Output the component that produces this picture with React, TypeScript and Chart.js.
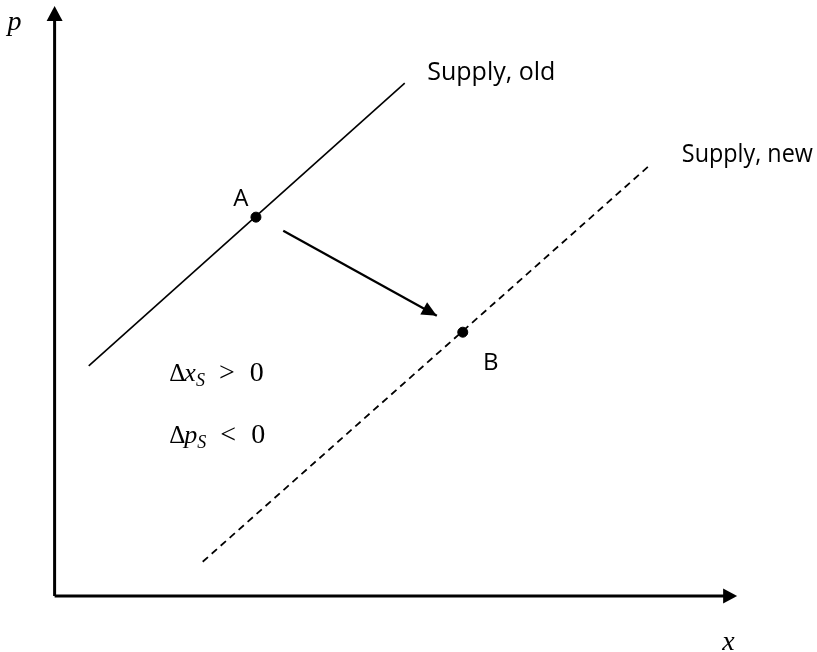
import React, { useEffect, useRef } from "react";
import { Chart, registerables } from "chart.js";

Chart.register(...registerables);

// Quantity (x) and price (p) units; axes run 0..100
const axisX = [0, 100];
const axisP = [0, 100];

const oldSupplyX = [5.0, 51.3];
const oldSupplyP = [39.0, 86.9];

const newSupplyX = [21.7, 87.1];
const newSupplyP = [5.8, 72.9];

const pointNames = ["A", "B"];
const pointX = [29.5, 59.8];
const pointP = [64.2, 44.7];

const shiftX = [33.5, 56.0];
const shiftP = [61.9, 47.5];

const seriesNames = ["Supply, old", "Supply, new"];

// annotation anchors (in data units)
const labelAnchors = {
  supplyOld: { x: 54.6, y: 87.4 },
  supplyNew: { x: 91.9, y: 73.6 },
  A: { x: 27.3, y: 66.1 },
  B: { x: 63.9, y: 38.3 },
  p: { x: -6.9, y: 95.9 },
  xAxis: { x: 97.8, y: -9.1 },
  dx: { x: 16.8, y: 36.4 },
  dp: { x: 16.8, y: 25.9 },
};

const toPts = (xs: number[], ys: number[]) => xs.map((x, i) => ({ x, y: ys[i] }));

export default function App() {
  const ref = useRef<HTMLCanvasElement | null>(null);
  useEffect(() => {
    document.body.style.margin = "0";
    const canvas = ref.current!;

    const arrowHead = (
      ctx: CanvasRenderingContext2D,
      x0: number, y0: number, x1: number, y1: number, len: number, hw: number
    ) => {
      const a = Math.atan2(y1 - y0, x1 - x0);
      ctx.beginPath();
      ctx.moveTo(x1, y1);
      ctx.lineTo(x1 - len * Math.cos(a) + hw * Math.sin(a), y1 - len * Math.sin(a) - hw * Math.cos(a));
      ctx.lineTo(x1 - len * Math.cos(a) - hw * Math.sin(a), y1 - len * Math.sin(a) + hw * Math.cos(a));
      ctx.closePath();
      ctx.fillStyle = "#000";
      ctx.fill();
    };

    const annot = {
      id: "annot",
      afterDatasetsDraw(chart: any) {
        const ctx = chart.ctx as CanvasRenderingContext2D;
        const xs = chart.scales.x;
        const ys = chart.scales.y;
        const px = (v: number) => xs.getPixelForValue(v);
        const py = (v: number) => ys.getPixelForValue(v);
        ctx.save();
        // arrow heads
        arrowHead(ctx, px(0), py(0), px(0), py(axisP[1]), 15, 8);
        arrowHead(ctx, px(0), py(0), px(axisX[1]), py(0), 14, 7.5);
        arrowHead(ctx, px(shiftX[0]), py(shiftP[0]), px(shiftX[1]), py(shiftP[1]), 15, 7);

        ctx.fillStyle = "#000";
        ctx.textBaseline = "alphabetic";
        ctx.font = "25px 'Open Sans'";
        ctx.textAlign = "left";
        ctx.fillText(seriesNames[0], px(labelAnchors.supplyOld.x), py(labelAnchors.supplyOld.y), 129);
        ctx.fillText(seriesNames[1], px(labelAnchors.supplyNew.x), py(labelAnchors.supplyNew.y), 131);
        ctx.font = "24px 'Open Sans'";
        ctx.textAlign = "center";
        ctx.fillText(pointNames[0], px(labelAnchors.A.x), py(labelAnchors.A.y));
        ctx.fillText(pointNames[1], px(labelAnchors.B.x), py(labelAnchors.B.y));

        ctx.textAlign = "left";
        ctx.font = "italic 28px 'Liberation Serif'";
        ctx.fillText("p", px(labelAnchors.p.x), py(labelAnchors.p.y));
        ctx.fillText("x", px(labelAnchors.xAxis.x), py(labelAnchors.xAxis.y));

        const mathLine = (ax: number, ay: number, v: string, rel: string) => {
          let x = px(ax);
          const y = py(ay);
          ctx.font = "25px 'Liberation Serif'";
          ctx.fillText("Δ", x, y);
          x += ctx.measureText("Δ").width - 1;
          ctx.font = "italic 26px 'Liberation Serif'";
          ctx.fillText(v, x, y);
          x += ctx.measureText(v).width;
          ctx.font = "italic 18px 'Liberation Serif'";
          ctx.fillText("S", x, y + 5);
          x += ctx.measureText("S").width + 14;
          ctx.font = "28px 'Liberation Serif'";
          ctx.fillText(rel, x, y);
          x += ctx.measureText(rel).width + 15;
          ctx.font = "28px 'Liberation Serif'";
          ctx.fillText("0", x, y);
        };
        mathLine(labelAnchors.dx.x, labelAnchors.dx.y, "x", ">");
        mathLine(labelAnchors.dp.x, labelAnchors.dp.y, "p", "<");
        ctx.restore();
      },
    };

    const chart = new Chart(canvas, {
      type: "scatter",
      data: {
        datasets: [
          {
            label: "p axis",
            data: toPts([0, 0], [0, axisP[1] - 2.4]),
            showLine: true, borderColor: "#000", borderWidth: 3, pointRadius: 0,
          },
          {
            label: "x axis",
            data: toPts([0, axisX[1] - 1.8], [0, 0]),
            showLine: true, borderColor: "#000", borderWidth: 3, pointRadius: 0,
          },
          {
            label: seriesNames[0],
            data: toPts(oldSupplyX, oldSupplyP),
            showLine: true, borderColor: "#000", borderWidth: 1.6, pointRadius: 0,
          },
          {
            label: seriesNames[1],
            data: toPts(newSupplyX, newSupplyP),
            showLine: true, borderColor: "#000", borderWidth: 1.8, borderDash: [7, 5], pointRadius: 0,
          },
          {
            label: "shift",
            data: toPts(shiftX, shiftP),
            showLine: true, borderColor: "#000", borderWidth: 2.2, pointRadius: 0,
          },
          {
            label: "points",
            data: toPts(pointX, pointP),
            showLine: false, pointRadius: 5, backgroundColor: "#000", borderColor: "#000",
          },
        ],
      },
      options: {
        animation: false,
        responsive: false,
        maintainAspectRatio: false,
        layout: { padding: 0, autoPadding: false },
        plugins: { legend: { display: false }, tooltip: { enabled: false } },
        scales: {
          x: { type: "linear", min: -8, max: 111.7, display: false },
          y: { type: "linear", min: -9.5, max: 101, display: false },
        },
      },
      plugins: [annot],
    });
    return () => chart.destroy();
  }, []);
  return <canvas ref={ref} width={817} height={652} style={{ display: "block" }} />;
}
